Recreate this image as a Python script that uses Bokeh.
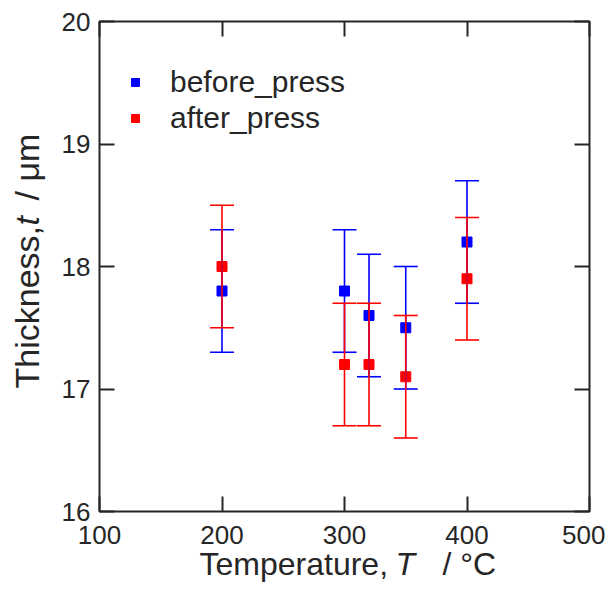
import math
from bokeh.plotting import figure
from bokeh.models import (ColumnDataSource, Whisker, TeeHead, Range1d, FixedTicker,
                          LinearAxis, Legend, LegendItem, Label)
from bokeh.embed import file_html
from bokeh.resources import INLINE

# ---- data ----
temperature = [200, 300, 320, 350, 400]
before_press = [17.8, 17.8, 17.6, 17.5, 18.2]
before_err = [0.5, 0.5, 0.5, 0.5, 0.5]
after_press = [18.0, 17.2, 17.2, 17.1, 17.9]
after_err = [0.5, 0.5, 0.5, 0.5, 0.5]
x_ticks = [100, 200, 300, 400, 500]
y_ticks = [16, 17, 18, 19, 20]
series_names = ["before_press", "after_press"]
x_title = ["Temperature,", "T", "/ °C"]
y_title = ["Thickness,", "t", "/ μm"]

BLUE = "#0000ff"
RED = "#ff0000"
INK = "#262626"
FONT = "Liberation Sans"

# ---- layout in pixels ----
W, H = 605, 582
BOX_L, BOX_R, BOX_T, BOX_B = 99, 589, 21, 511   # data box edges on the canvas
xlo, xhi = x_ticks[0], x_ticks[-1]
ylo, yhi = y_ticks[0], y_ticks[-1]
kx = (xhi - xlo) / (BOX_R - BOX_L)
ky = (yhi - ylo) / (BOX_B - BOX_T)
x_range = Range1d(xlo - BOX_L * kx, xhi + (W - BOX_R) * kx)
y_range = Range1d(ylo - (H - BOX_B) * ky, yhi + BOX_T * ky)


def src(vals, errs):
    return ColumnDataSource(dict(
        x=temperature, y=vals,
        upper=[v + e for v, e in zip(vals, errs)],
        lower=[v - e for v, e in zip(vals, errs)]))


sb = src(before_press, before_err)
sa = src(after_press, after_err)

p = figure(width=W, height=H, output_backend="svg", toolbar_location=None,
           x_range=x_range, y_range=y_range, min_border=0,
           x_axis_location=None, y_axis_location=None)
p.grid.visible = False
p.outline_line_color = None
p.background_fill_color = "white"
p.border_fill_color = "white"

# plot box
p.quad(left=[xlo], right=[xhi], bottom=[ylo], top=[yhi],
       fill_color=None, line_color=INK, line_width=2)


def make_axis(ticker, loc, labels=True):
    ax = LinearAxis(ticker=FixedTicker(ticks=ticker), fixed_location=loc)
    ax.axis_line_color = None
    ax.major_tick_in = 15
    ax.major_tick_out = 0
    ax.major_tick_line_color = INK
    ax.major_tick_line_width = 2
    ax.minor_tick_line_color = None
    if labels:
        ax.major_label_text_font = FONT
        ax.major_label_text_font_size = "26px"
        ax.major_label_text_color = INK
    else:
        ax.major_label_text_font_size = "0px"
        ax.major_label_text_color = None
        ax.major_label_standoff = 0
    return ax


bx = make_axis(x_ticks, ylo); bx.major_label_standoff = 14
ly = make_axis(y_ticks, xlo); ly.major_label_standoff = 9
tx = make_axis(x_ticks, yhi, False)
ry = make_axis(y_ticks, xhi, False)
p.add_layout(bx, "below")
p.add_layout(ly, "left")
p.add_layout(tx, "above")
p.add_layout(ry, "right")

for s, c in ((sb, BLUE), (sa, RED)):
    w = Whisker(base="x", upper="upper", lower="lower", source=s, dimension="height",
                line_color=c, line_width=1.6,
                upper_head=TeeHead(size=24, line_color=c, line_width=1.6),
                lower_head=TeeHead(size=24, line_color=c, line_width=1.6))
    w.level = "glyph"
    p.add_layout(w)

rb = p.scatter("x", "y", source=sb, marker="square", size=10, color=BLUE)
ra = p.scatter("x", "y", source=sa, marker="square", size=10, color=RED)

leg = Legend(items=[LegendItem(label=series_names[0], renderers=[rb]),
                    LegendItem(label=series_names[1], renderers=[ra])],
             location=(125, H - 135), padding=0, margin=0, spacing=2,
             glyph_width=20, glyph_height=28, label_height=28, label_standoff=25,
             label_text_font=FONT, label_text_font_size="30px", label_text_color=INK,
             border_line_color=None, background_fill_alpha=0)
p.add_layout(leg)


def lab(text, x, y, style, size, angle=0.0):
    p.add_layout(Label(x=x, y=y, x_units="screen", y_units="screen", text=text,
                       angle=angle, text_font=FONT, text_font_size=size,
                       text_font_style=style, text_color=INK,
                       text_align="left", text_baseline="alphabetic"))


# x-axis title
for t, xp, st in zip(x_title, [199, 395, 442], ["normal", "italic", "normal"]):
    lab(t, xp, H - 563, st, "32px")

# y-axis title (rotated)
for t, yp, st in zip(y_title, [388, 225, 200], ["normal", "italic", "normal"]):
    lab(t, 26, H - yp, st, "34px", angle=math.pi / 2)

open("out.html", "w").write(file_html(p, INLINE))
